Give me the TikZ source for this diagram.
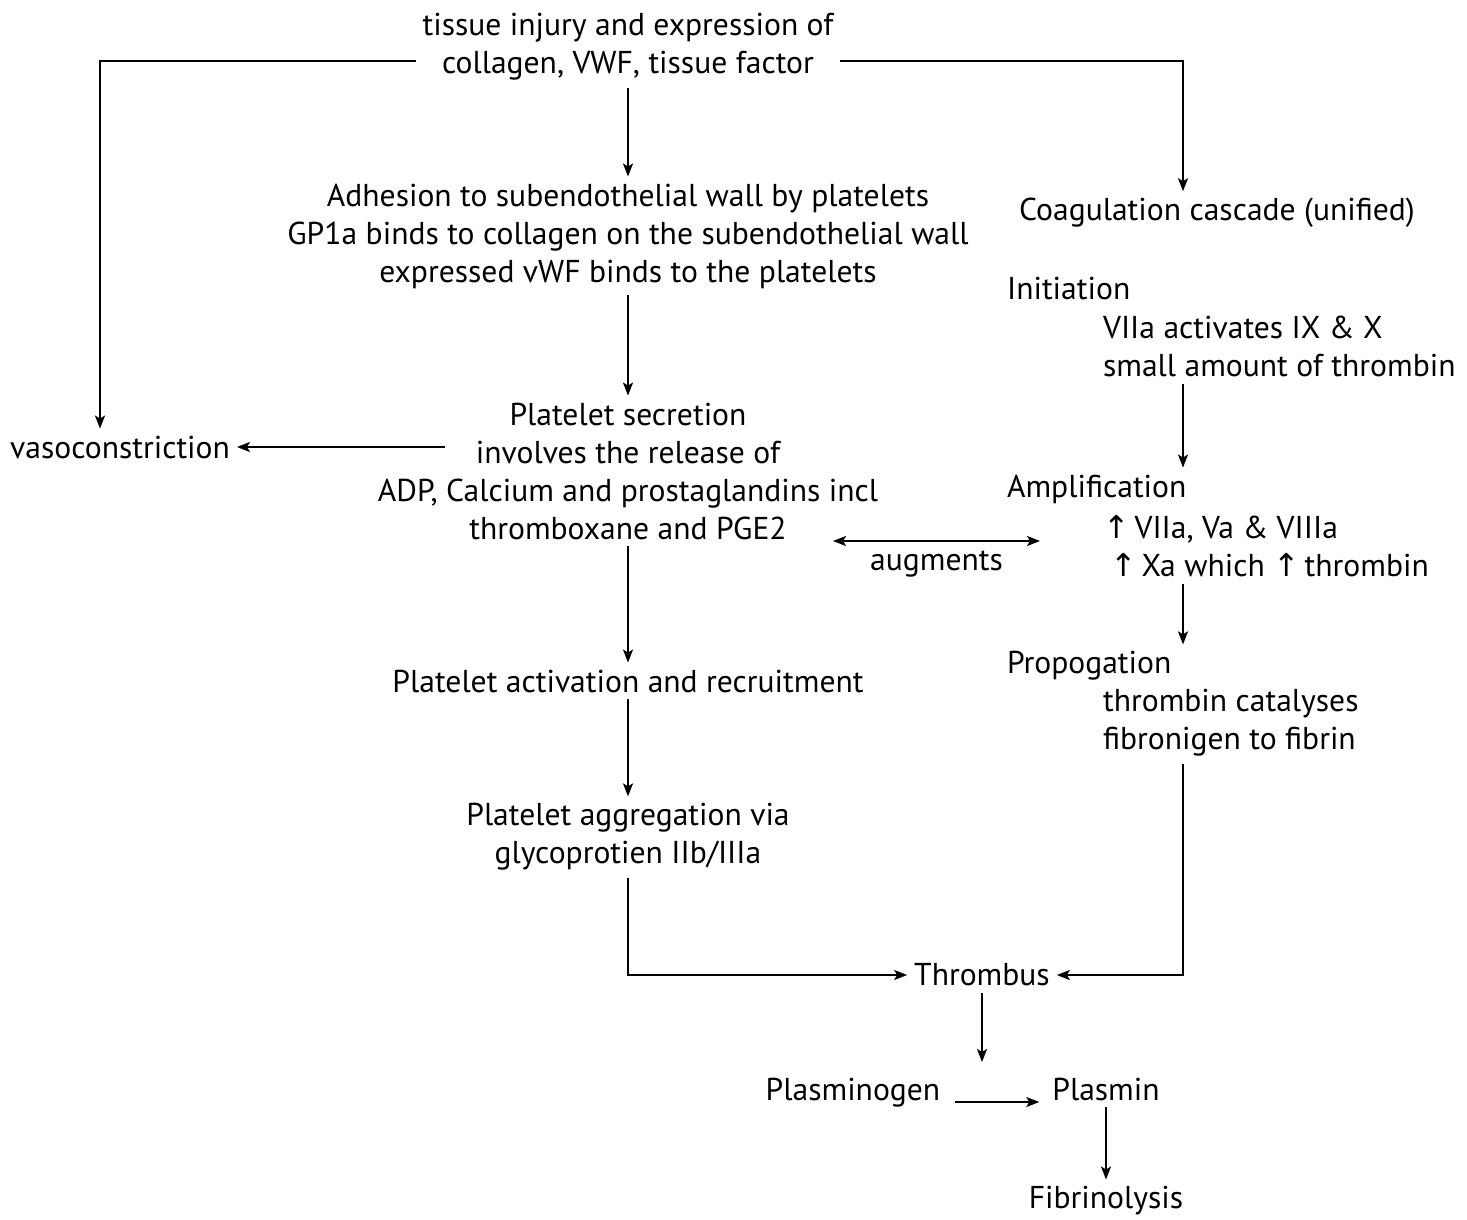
\documentclass[tikz,border=0pt]{standalone}
\usepackage{fontspec}
\setmainfont{PT Sans}
\newfontfamily\symfont{DejaVu Sans}
\usepackage{tikz}
\usetikzlibrary{arrows.meta,positioning}
\newcommand{\upar}{{\symfont\char"2191}\kern2.5pt}

\begin{document}
\begin{tikzpicture}[
  x=0.5pt,y=-0.5pt,
  >={Stealth[length=6.5pt,width=5pt,inset=1.5pt]},
  txt/.style={align=center,font=\fontsize{15.8}{19}\selectfont},
  ltxt/.style={align=left,anchor=west,font=\fontsize{15.8}{19}\selectfont},
  arr/.style={->,line width=1pt}
]
\useasboundingbox (0,0) rectangle (1467,1220);
\node[txt] (injury) at (628,47) {tissue injury and expression of\\collagen, VWF, tissue factor};
\node[txt] (adh) at (628,236) {Adhesion to subendothelial wall by platelets\\GP1a binds to collagen on the subendothelial wall\\expressed vWF binds to the platelets};
\node[txt] (secr) at (628,471) {Platelet secretion\\involves the release of\\ADP, Calcium and prostaglandins incl\\thromboxane and PGE2};
\node[txt] (vaso) at (120,447) {vasoconstriction};
\node[txt] (actv) at (628,681) {Platelet activation and recruitment};
\node[txt] (aggr) at (628,837) {Platelet aggregation via\\glycoprotien IIb/IIIa};
\node[txt] (thromb) at (982,975) {Thrombus};
\node[txt,anchor=base] (plasg) at (853,1100) {Plasminogen};
\node[txt,anchor=base] (plasm) at (1106,1100) {Plasmin};
\node[txt] (fibr) at (1106,1201) {Fibrinolysis};
% coagulation side
\node[txt] (coag) at (1217,213) {Coagulation cascade (unified)};
\node[ltxt] (init) at (1000,289) {Initiation};
\node[ltxt] (initx) at (1096,346) {VIIa activates IX \& X\\small amount of thrombin};
\node[ltxt] (amp) at (1000,489) {Amplification};
\node[ltxt] (ampx) at (1096,546) {\upar VIIa, Va \& VIIIa\\\hspace{3.5pt}\upar Xa which \upar thrombin};
\node[ltxt] (prop) at (1000,666) {Propogation};
\node[ltxt] (propx) at (1096,723) {thrombin catalyses\\fibronigen to fibrin};
\coordinate (rx) at (1183,0);
\coordinate (secl) at (445,447);
\coordinate (augl) at (833,541);
\coordinate (augr) at (1040,541);
\coordinate (lysis) at (982,1062);

\draw[arr] ([yshift=-7pt]injury.west) -| ([xshift=-10pt]vaso.north);
\draw[arr] ([yshift=-7pt]injury.east) -| ([xshift=-17pt]coag.north);
\draw[arr] (injury) -- (adh);
\draw[arr] (adh) -- (secr);
\draw[arr] (secl) -- (vaso);
\draw[arr] (secr) -- (actv);
\draw[arr] (actv) -- (aggr);
\draw[arr] (aggr.south) |- (thromb.west);
\draw[arr,<->] (augl) -- node[below=1pt,txt] (aug) {augments} (augr);
\draw[arr] (initx.south -| rx) -- (amp.north -| rx);
\draw[arr] (ampx.south -| rx) -- (prop.north -| rx);
\draw[arr] (propx.south -| rx) |- (thromb.east);
\draw[arr] (thromb) -- (lysis);
\draw[arr,shorten <=4pt,shorten >=3pt] ([yshift=-1pt]plasg.base east) -- ([yshift=-1pt]plasm.base west);
\draw[arr] (plasm) -- (fibr);
\end{tikzpicture}
\end{document}
